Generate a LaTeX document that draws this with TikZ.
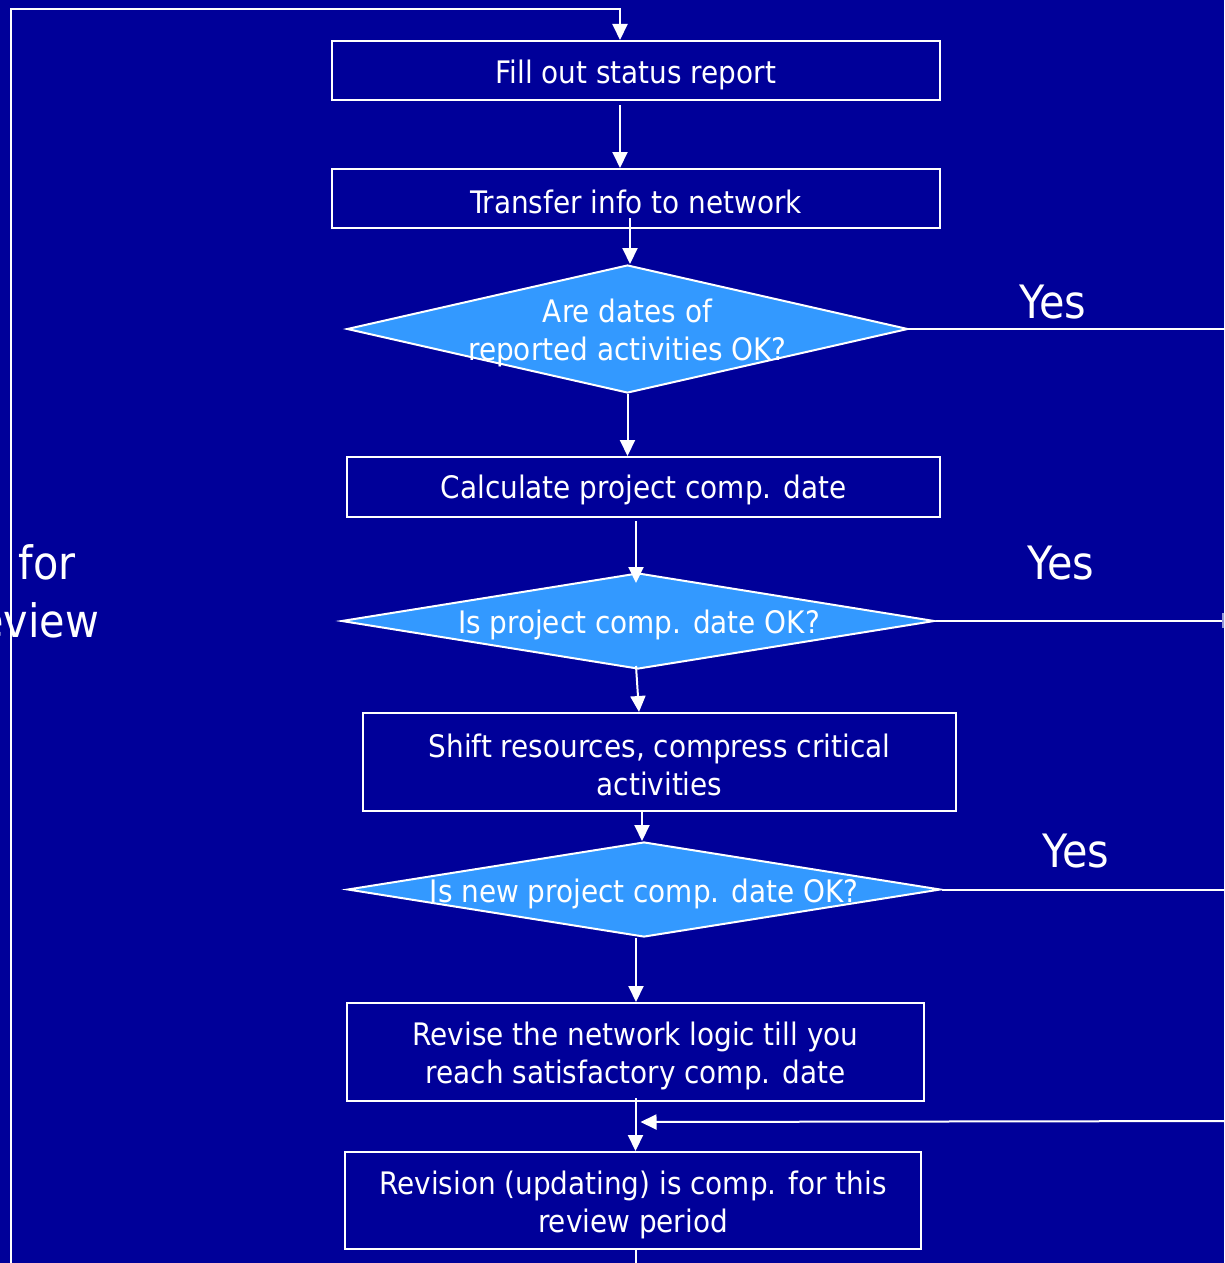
\documentclass[tikz,border=0pt]{standalone}
\usepackage{fontspec}
\setmainfont{DejaVu Sans Condensed}
\usetikzlibrary{shapes.geometric,arrows.meta,calc}
\definecolor{bgblue}{RGB}{0,0,153}
\definecolor{dmblue}{RGB}{51,153,255}
\definecolor{sqcol}{RGB}{150,150,215}
\tikzset{
  stepbox/.style={draw=white, line width=2pt, rectangle, inner sep=0pt},
  decision/.style={draw=white, fill=dmblue, line width=2pt, diamond, inner sep=0pt, aspect=4},
  btext/.style={text=white, align=center, inner sep=0pt, font=\fontsize{31}{38}\selectfont},
  yeslbl/.style={text=white, inner sep=0pt, font=\fontsize{46}{55}\selectfont},
  sidelbl/.style={text=white, inner sep=0pt, font=\fontsize{46}{57}\selectfont},
  ln/.style={draw=white, line width=2pt},
  arr/.style={ln, -{Triangle[length=16pt,width=15pt]}},
}
\begin{document}
\begin{tikzpicture}[x=1pt,y=-1pt]
\useasboundingbox (0,0) rectangle (1224,1263);
\clip (0,0) rectangle (1224,1263);
\fill[bgblue] (0,0) rectangle (1224,1263);

% boxes and decisions
\node[stepbox, minimum width=608pt, minimum height=59pt] (b1) at (636,70.5) {};
\node[stepbox, minimum width=608pt, minimum height=59pt] (b2) at (636,198.5) {};
\node[decision, minimum width=561pt, minimum height=128pt] (d1) at (627.5,329) {};
\node[stepbox, minimum width=593pt, minimum height=60pt] (b3) at (643.5,487) {};
\node[decision, minimum width=593pt, minimum height=96pt] (d2) at (638,621) {};
\node[stepbox, minimum width=593pt, minimum height=98pt] (b4) at (659.5,762) {};
\node[decision, minimum width=593pt, minimum height=95pt] (d3) at (644,889.5) {};
\node[stepbox, minimum width=577pt, minimum height=98pt] (b5) at (635.5,1052) {};
\node[stepbox, minimum width=576pt, minimum height=97pt] (b6) at (633,1200.5) {};

% texts
\node[btext] (tb1) at ($(b1)+(0,4)$) {Fill out status report};
\node[btext] (tb2) at ($(b2)+(0,3)$) {Transfer info to network};
\node[btext] (td1) at ($(d1)+(0,4)$) {Are dates of\\reported activities OK?};
\node[btext] (tb3) at ($(b3)+(0,3)$) {Calculate project comp. date};
\node[btext] (td2) at ($(d2)+(1,4)$) {Is project comp. date OK?};
\node[btext] (tb4) at ($(b4)+(0,3)$) {Shift resources, compress critical\\activities};
\node[btext] (td3) at ($(d3)+(0,4)$) {Is new project comp. date OK?};
\node[btext] (tb5) at ($(b5)+(0,4)$) {Revise the network logic till you\\reach satisfactory comp. date};
\node[btext] (tb6) at ($(b6)+(0,4)$) {Revision (updating) is comp. for this\\review period};

% labels
\node[yeslbl] (y1) at (1053,302) {Yes};
\node[yeslbl] (y2) at (1061,563) {Yes};
\node[yeslbl] (y3) at (1076,851) {Yes};
\node[sidelbl, anchor=base east] (s1) at (76,579) {for};
\node[sidelbl, anchor=base east] (s2) at (99,637) {review};

% small clipped marker at right edge
\node[rectangle, fill=sqcol, minimum width=10pt, minimum height=15pt, inner sep=0pt] (sq) at (1227,620.5) {};

% coordinates
\coordinate (loopbot) at (11,1300);
\coordinate (looptop) at (11,9);
\coordinate (rin) at (1240,1121);
\coordinate (r1) at (1240,329);
\coordinate (r2) at (1222,621);
\coordinate (r3) at (1240,889.5);

% connectors
\draw[arr] ($(b1.south)+(-16,4)$) -- ($(b2.north)+(-16,0)$);
\draw[arr] ($(b2.south)+(-6,-11)$) -- ($(d1.north)+(2.5,0)$);
\draw[arr] (d1.south) -- (d1.south |- b3.north);
\draw[arr] ($(b3.south)+(-7.5,3)$) -- ($(d2.north)+(-2,11)$);
\draw[arr] ($(d2.south)+(-2,-4)$) -- ($(b4.north)+(-20.5,0)$);
\draw[arr] ($(b4.south)+(-17.5,-2)$) -- ($(d3.north)+(-2,0)$);
\draw[arr] ($(d3.south)+(-8,0)$) -- ($(b5.north)+(0.5,0)$);
\draw[arr] ($(b5.south)+(0,-4)$) -- (b5.south |- b6.north);
\draw[arr] (rin) -- ($(b5.south)+(5,20)$);
\draw[arr] ($(b6.south)+(3,0)$) |- (loopbot) -- (looptop) -| ($(b1.north)+(-16,0)$);

\draw[ln] (d1.east) -- (r1);
\draw[ln] (d2.east) -- (r2);
\draw[ln] (d3.east) -- (r3);
\end{tikzpicture}
\end{document}
